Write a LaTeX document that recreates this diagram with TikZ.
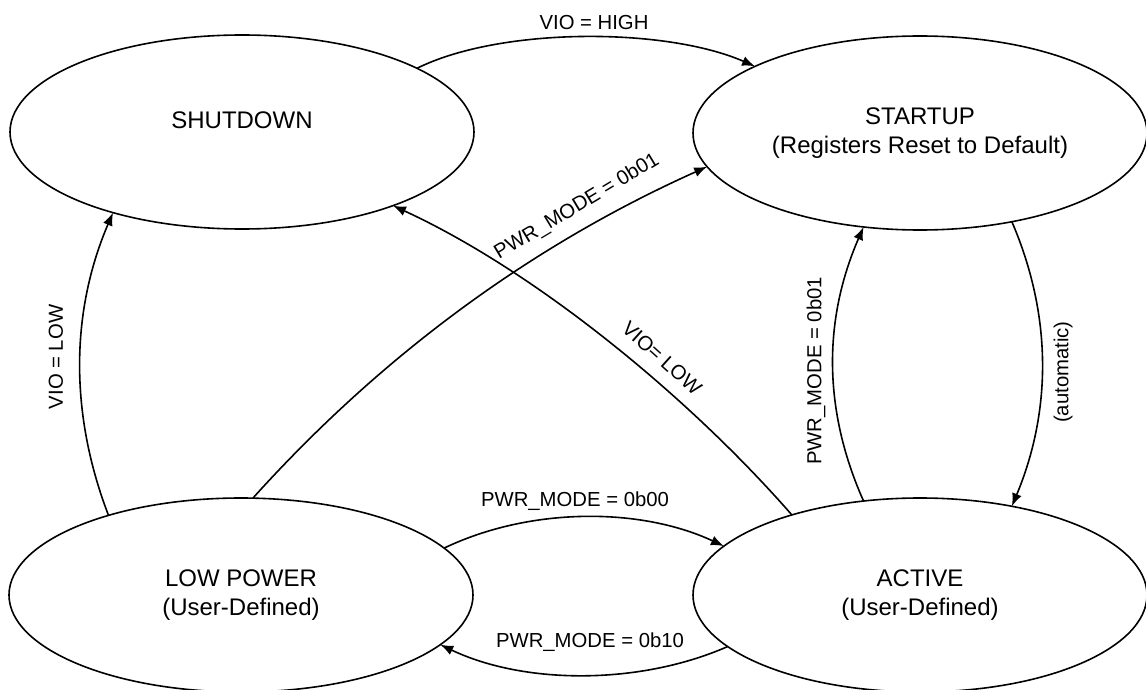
\documentclass[tikz,border=0pt]{standalone}
\usepackage{fontspec}
\setmainfont{Liberation Sans}
\usetikzlibrary{arrows.meta,shapes.geometric}
\begin{document}
\begin{tikzpicture}[x=1pt,y=-1pt,
  state/.style={ellipse,draw,line width=1.6pt,inner sep=0pt,outer sep=0pt,
    minimum height=194pt,align=center,font=\fontsize{24}{29}\selectfont},
  wide/.style={minimum width=464pt},
  narrow/.style={minimum width=454pt},
  edge/.style={line width=1.6pt,-{Latex[length=13pt,width=10pt]}},
  lbl/.style={inner sep=0pt,font=\fontsize{20.3}{24}\selectfont}]
\useasboundingbox (0,0) rectangle (1146,690);

% power states
\node[state,wide]   (sd) at (242,132) {\raisebox{12pt}[\height][\depth]{SHUTDOWN}};
\node[state,narrow] (su) at (920,133) {STARTUP\\(Registers Reset to Default)};
\node[state,wide]   (lp) at (241,595) {LOW POWER\\(User-Defined)};
\node[state,narrow] (ac) at (920,595) {ACTIVE\\(User-Defined)};

% transitions
\draw[edge] (sd.20.8) .. controls (500,27) and (665,27) .. (su.158.7)
  node[lbl] (l1) at (594,23) {VIO = HIGH};
\draw[edge] (lp.13.6) .. controls (530,507) and (640,507) .. (ac.166.3)
  node[lbl] (l2) at (575,501) {PWR\_MODE = 0b00};
\draw[edge] (ac.-165.6) .. controls (640,685) and (525,685) .. (lp.-14)
  node[lbl] (l3) at (590,642) {PWR\_MODE = 0b10};
\draw[edge] (lp.149) .. controls (70,415) and (70,313) .. (sd.-148.8)
  node[lbl,rotate=90] (l4) at (56,357) {VIO = LOW};
\draw[edge] (lp.83) .. controls (380,357) and (530,246) .. (su.-171.1)
  node[lbl,rotate=31] (l5) at (577,207) {PWR\_MODE = 0b01};
\draw[edge] (ac.148.8) .. controls (688,396) and (535,271) .. (sd.-26.7)
  node[lbl,rotate=-42] (l6) at (662,358) {VIO= LOW};
\draw[edge] (ac.121.5) .. controls (823,410) and (823,320) .. (su.-121.1)
  node[lbl,rotate=90] (l7) at (816,371) {PWR\_MODE = 0b01};
\draw[edge] (su.-44.7) .. controls (1052,315) and (1052,410) .. (ac.44.1)
  node[lbl,rotate=90] (l8) at (1063,372) {(automatic)};
\end{tikzpicture}
\end{document}
